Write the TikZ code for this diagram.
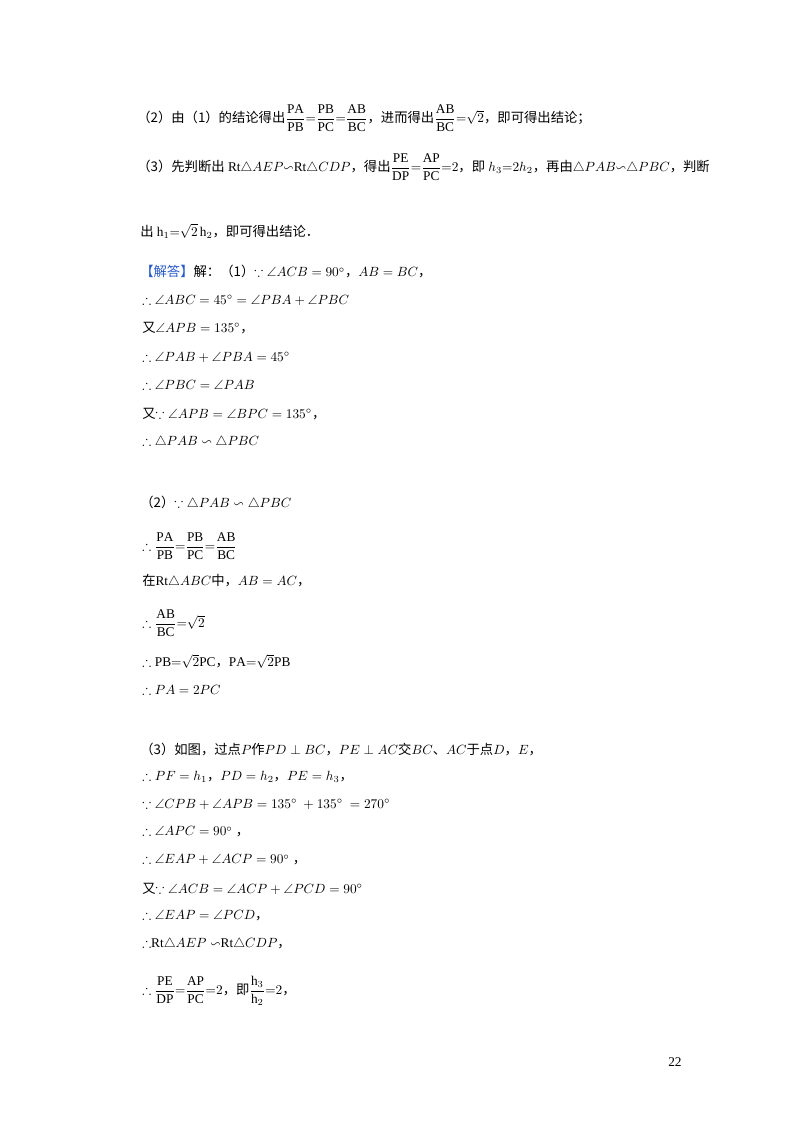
\documentclass[tikz,border=0pt]{standalone}
\usepackage{amsmath,amssymb}
\usepackage{fontspec}
\setmainfont{Liberation Serif}
\newfontfamily\cjk{Noto Sans CJK SC}
\newcommand{\zh}[1]{{\cjk #1}}
\begin{document}
\begin{tikzpicture}[x=0.75pt,y=-0.75pt,
  ln/.style={anchor=west,inner sep=0pt,font=\fontsize{10}{12}\selectfont}]
\useasboundingbox (0,0) rectangle (800,1132);
\node[ln] (l1) at (137,118) {\zh{（2）由（1）的结论得出}$\dfrac{\mathrm{PA}}{\mathrm{PB}}{=}\dfrac{\mathrm{PB}}{\mathrm{PC}}{=}\dfrac{\mathrm{AB}}{\mathrm{BC}}$\zh{，进而得出}$\dfrac{\mathrm{AB}}{\mathrm{BC}}{=}\sqrt{2}$\zh{，即可得出结论；}};
\node[ln] (l2) at (137,167) {\zh{（3）先判断出} Rt$\triangle AEP{\backsim}$Rt$\triangle CDP$\zh{，得出}$\dfrac{\mathrm{PE}}{\mathrm{DP}}{=}\dfrac{\mathrm{AP}}{\mathrm{PC}}{=}2$\zh{，即} $h_3{=}2h_2$\zh{，再由}$\triangle PAB{\backsim}\triangle PBC$\zh{，判断}};
\node[ln] (l3) at (140,231) {\zh{出} $\mathrm{h}_1{=}\sqrt{2}\,\mathrm{h}_2$\zh{，即可得出结论．}};
\node[ln] (l4) at (140,272) {\textcolor[RGB]{40,90,200}{\zh{【解答】}}\zh{解：（1）}$\because\angle ACB=90^\circ$\zh{，}$AB=BC$\zh{，}};
\node[ln] (l5) at (142,300) {$\therefore\angle ABC=45^\circ=\angle PBA+\angle PBC$};
\node[ln] (l6) at (142,328) {\zh{又}$\angle APB=135^\circ$\zh{，}};
\node[ln] (l7) at (142,357) {$\therefore\angle PAB+\angle PBA=45^\circ$};
\node[ln] (l8) at (142,385) {$\therefore\angle PBC=\angle PAB$};
\node[ln] (l9) at (142,414) {\zh{又}$\because\angle APB=\angle BPC=135^\circ$\zh{，}};
\node[ln] (l10) at (142,442) {$\therefore\triangle PAB\backsim\triangle PBC$};
\node[ln] (l11) at (140,503) {\zh{（2）}$\because\triangle PAB\backsim\triangle PBC$};
\node[ln] (l12) at (142,546) {$\therefore\dfrac{\mathrm{PA}}{\mathrm{PB}}{=}\dfrac{\mathrm{PB}}{\mathrm{PC}}{=}\dfrac{\mathrm{AB}}{\mathrm{BC}}$};
\node[ln] (l13) at (142,581) {\zh{在}Rt$\triangle ABC$\zh{中，}$AB=AC$\zh{，}};
\node[ln] (l14) at (142,623) {$\therefore\dfrac{\mathrm{AB}}{\mathrm{BC}}{=}\sqrt{2}$};
\node[ln] (l15) at (142,661) {$\therefore\mathrm{PB}{=}\sqrt{2}\mathrm{PC}$\zh{，}$\mathrm{PA}{=}\sqrt{2}\mathrm{PB}$};
\node[ln] (l16) at (142,690) {$\therefore PA=2PC$};
\node[ln] (l17) at (140,749) {\zh{（3）如图，过点}$P$\zh{作}$PD\perp BC$\zh{，}$PE\perp AC$\zh{交}$BC$\zh{、}$AC$\zh{于点}$D$\zh{，}$E$\zh{，}};
\node[ln] (l18) at (142,777) {$\therefore PF=h_1$\zh{，}$PD=h_2$\zh{，}$PE=h_3$\zh{，}};
\node[ln] (l19) at (142,804) {$\because\angle CPB+\angle APB=135^\circ\ +135^\circ\ =270^\circ$};
\node[ln] (l20) at (142,832) {$\therefore\angle APC=90^\circ$\ \zh{，}};
\node[ln] (l21) at (142,860) {$\therefore\angle EAP+\angle ACP=90^\circ$\ \zh{，}};
\node[ln] (l22) at (142,889) {\zh{又}$\because\angle ACB=\angle ACP+\angle PCD=90^\circ$};
\node[ln] (l23) at (142,916) {$\therefore\angle EAP=\angle PCD$\zh{，}};
\node[ln] (l24) at (142,944) {$\therefore$Rt$\triangle AEP\backsim$Rt$\triangle CDP$\zh{，}};
\node[ln] (l25) at (142,991) {$\therefore\dfrac{\mathrm{PE}}{\mathrm{DP}}{=}\dfrac{\mathrm{AP}}{\mathrm{PC}}{=}2$\zh{，即}$\dfrac{\mathrm{h}_3}{\mathrm{h}_2}{=}2$\zh{，}};
\node[ln] (pg) at (668,1062) {22};
\end{tikzpicture}
\end{document}
